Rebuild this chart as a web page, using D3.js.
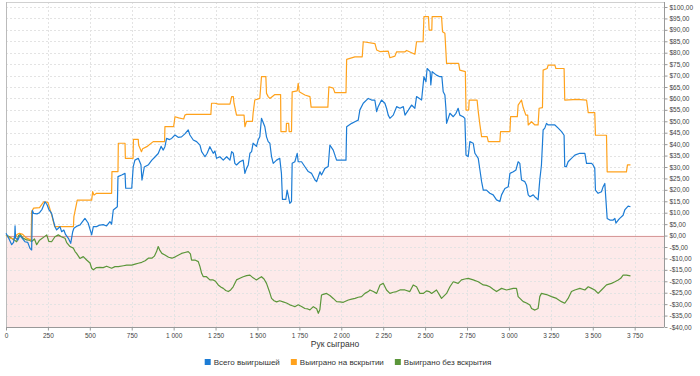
<!DOCTYPE html>
<html>
<head>
<meta charset="utf-8">
<script src="https://cdn.jsdelivr.net/npm/d3@7"></script>
<style>
  body { margin: 0; background: #fff; }
  svg { display: block; font-family: "Liberation Sans", Arial, sans-serif; }
  .tick text { fill: #444; font-size: 6.5px; }
  .domain, .tick line { stroke: #999; }
  .grid line { stroke: #e3e3e3; stroke-dasharray: 2,2; }
</style>
</head>
<body>
<div id="wrapper"></div>
<script>
// hands played -> winnings
const totalWon = [[0,1],[15,-1],[34,-4],[45,-3],[52,0],[54,4.3],[57,-1],[70,-2],[83,0],[95,-1],[113,-2.7],[130,-3],[143,-5.6],[153,-6.3],[157,11],[165,9.7],[185,9.5],[200,10],[215,11.5],[233,14.8],[245,13.5],[255,11.5],[272,9.7],[282,6.8],[292,3.9],[302,2.5],[312,3.2],[322,3.9],[332,1.7],[345,2.4],[355,0.5],[372,-1.2],[386,-3.4],[398,1.7],[405,3.2],[420,4],[441,4.6],[455,6],[471,7.5],[490,5.5],[511,0.3],[521,3.9],[540,3.9],[560,4.6],[580,4.8],[600,4.2],[620,6.1],[630,5],[640,11.2],[664,12.6],[668,25.8],[690,26.5],[710,27.2],[714,20.7],[750,20.7],[759,30.2],[769,33],[789,33.8],[805,31],[811,24.3],[825,30],[850,31],[870,33],[890,34.5],[908,35.9],[925,39],[938,37.4],[948,38.9],[958,42.5],[975,42],[988,42.5],[1008,44],[1027,43],[1047,43.2],[1067,44.5],[1087,46.2],[1097,44],[1117,41.8],[1137,41.1],[1157,39.6],[1167,36.7],[1187,34.5],[1200,36],[1216,38.9],[1236,36],[1246,37],[1256,33.8],[1276,34.5],[1296,33],[1316,34.5],[1336,33],[1346,36.7],[1356,36],[1365,31.6],[1375,30.9],[1395,32.3],[1415,33],[1425,27.2],[1435,29.4],[1445,30.9],[1455,36],[1465,36.7],[1474,40.4],[1494,39],[1504,41.8],[1514,43.2],[1524,51.3],[1544,47.6],[1554,43.2],[1564,41.1],[1574,40.4],[1584,34.5],[1594,31.6],[1614,33],[1633,33.8],[1643,27.2],[1649,15.8],[1669,15.8],[1677,19.9],[1685,17],[1693,14.1],[1703,14.9],[1707,31.6],[1723,32.3],[1737,36],[1743,32.3],[1763,32.3],[1783,30.1],[1803,28],[1823,27.2],[1843,24.3],[1853,23.6],[1873,27.9],[1882,26.5],[1902,29.4],[1922,30.2],[1932,39.6],[1952,37.4],[1972,33],[2028,33],[2032,47.6],[2062,49.1],[2081,49.8],[2101,50.5],[2111,55],[2131,57.9],[2161,60],[2181,59.3],[2200,59.3],[2211,54.2],[2220,56.4],[2240,59.3],[2260,57.9],[2270,55.7],[2280,52.7],[2290,51.3],[2310,52.7],[2330,56.4],[2350,55.7],[2370,56.4],[2380,52.7],[2400,54.9],[2419,57.1],[2439,55.7],[2449,60.8],[2479,59.3],[2493,69.5],[2505,67.3],[2512,73.1],[2530,71.7],[2534,65.9],[2542,71.7],[2568,70.2],[2588,69.5],[2600,69.5],[2608,62.9],[2618,61.5],[2624,55.7],[2628,49.1],[2648,53.5],[2668,52],[2684,53.5],[2697,55.7],[2707,52.7],[2727,52],[2737,51.3],[2744,35.2],[2757,34.5],[2767,41.1],[2787,40.4],[2797,36],[2817,33.8],[2827,28.7],[2837,23.6],[2847,19.9],[2866,19.9],[2886,18.5],[2906,17.8],[2926,15.6],[2946,14.9],[2956,17.8],[2976,20.6],[2996,21.4],[3006,27.2],[3026,27.9],[3042,28.7],[3055,32.3],[3065,31.6],[3075,24.3],[3095,23.6],[3105,22],[3115,17.8],[3125,17],[3145,17.8],[3155,16.9],[3165,16.3],[3174,15.6],[3184,24.3],[3194,30.9],[3204,46.2],[3214,47],[3224,49.1],[3234,48.4],[3254,48.4],[3274,48.4],[3294,47],[3314,45.5],[3329,43.9],[3333,30.2],[3343,30.2],[3353,32.3],[3373,33.8],[3393,35.2],[3423,36],[3453,36],[3463,31.6],[3493,31.6],[3502,30.9],[3512,29.4],[3516,19.9],[3532,18.5],[3552,19.2],[3562,21.4],[3572,22.8],[3586,7.5],[3602,6.8],[3622,6.8],[3632,7.5],[3638,5.4],[3652,6.8],[3661,7.5],[3681,8.9],[3691,11.2],[3711,12.9],[3725,12.6]]

const showdownWon = [[0,0],[20,-1],[50,-1.5],[65,0.5],[80,1],[100,0.5],[120,-1],[150,-2],[153,10.4],[165,12],[200,12.2],[225,14.8],[250,14.5],[270,9.7],[290,3.9],[402,3.9],[405,8.3],[425,15.5],[511,15.5],[517,19.2],[525,17.7],[540,18.5],[630,18.5],[632,28],[668,28],[670,40.4],[710,40.4],[712,33.8],[758,33.8],[760,42.1],[789,42.1],[791,39.6],[808,36.7],[815,38],[840,38.9],[878,41.1],[946,41.1],[948,47.7],[1000,47.7],[1008,52],[1030,51.5],[1060,51],[1067,52.7],[1077,53],[1222,53],[1226,57.9],[1246,57.9],[1266,57.5],[1336,57.5],[1346,60.8],[1356,60.8],[1360,57.9],[1375,52.7],[1420,52.7],[1425,47.6],[1435,50],[1470,50],[1474,53.5],[1484,59.3],[1514,60],[1524,69.5],[1550,69.5],[1554,62.2],[1564,60.8],[1574,60],[1604,61.7],[1638,61.7],[1640,45.5],[1671,45.5],[1673,49.1],[1686,49.1],[1689,45.5],[1703,45.5],[1707,62.9],[1737,63.3],[1743,66.6],[1749,62.9],[1783,61.5],[1813,60.8],[1820,56.2],[1920,56.2],[1926,65.1],[1952,64.5],[1962,62.5],[2028,62.5],[2032,77.1],[2081,78.2],[2125,78.2],[2131,84.8],[2201,84],[2211,81.2],[2230,80.5],[2280,80.7],[2290,77.8],[2320,78.5],[2330,80.4],[2380,80.4],[2390,81],[2439,79.3],[2449,84.8],[2488,84.8],[2493,95.8],[2520,95.8],[2524,89.9],[2540,89.9],[2542,95.8],[2598,95.8],[2604,89.2],[2618,88.5],[2628,75.3],[2700,75.3],[2707,72.4],[2740,71.7],[2744,54.9],[2760,54.9],[2763,59.3],[2810,59.3],[2817,54.2],[2827,48.4],[2837,43.3],[2870,43.3],[2877,41.1],[2946,41.1],[2950,45.5],[3006,45.5],[3010,52],[3050,52],[3055,57.1],[3075,59.3],[3085,56],[3101,52.7],[3112,52.7],[3115,48.4],[3135,49.8],[3155,48.4],[3174,48.4],[3180,55.7],[3200,56],[3204,72.4],[3228,73.1],[3234,74.6],[3274,74.6],[3280,73.1],[3329,73.1],[3333,59.3],[3407,59.6],[3463,59.3],[3473,53.8],[3512,53.8],[3516,43.9],[3582,43.9],[3586,27.9],[3701,27.9],[3707,30.9],[3725,30.9]]

const nonShowdownWon = [[0,0.3],[20,-0.5],[40,-1.5],[64,-2.7],[75,0],[85,0.5],[100,-1],[123,-1.9],[140,-2],[153,-2.6],[170,-1.5],[183,-4],[200,-2],[220,-1],[243,0.3],[255,-2.5],[272,-2.7],[292,-0.5],[312,0.3],[330,-0.5],[352,-1.2],[362,-3.1],[382,-4.8],[402,-5.5],[412,-7],[421,-7.8],[441,-10],[461,-9.2],[481,-10.7],[501,-12],[511,-14.3],[521,-15],[540,-14],[560,-13.9],[580,-14],[600,-13.4],[630,-14.3],[650,-13.6],[670,-13.6],[700,-13.2],[720,-12.9],[750,-12.9],[770,-12.5],[789,-12.1],[810,-11.7],[830,-11],[849,-9.9],[870,-9.9],[885,-9],[898,-7],[908,-4.8],[918,-6.5],[930,-7.8],[948,-8.5],[970,-9.5],[990,-9.9],[1010,-9.3],[1030,-8.5],[1047,-7.8],[1067,-7.4],[1087,-7],[1100,-8],[1107,-10.7],[1127,-10.7],[1147,-11.4],[1157,-13.6],[1167,-16.5],[1177,-18],[1196,-18],[1216,-19.4],[1236,-19.4],[1250,-20],[1266,-21.6],[1281,-22.5],[1296,-23.1],[1311,-24],[1326,-24.5],[1340,-23.8],[1355,-22.4],[1375,-19.4],[1395,-18.7],[1415,-18],[1435,-17.5],[1455,-17.3],[1474,-18.5],[1494,-19.4],[1509,-18.7],[1524,-18],[1539,-19],[1554,-20.9],[1569,-24],[1584,-27.5],[1599,-28.5],[1614,-29],[1633,-28.5],[1653,-29],[1673,-29.5],[1693,-30.3],[1708,-30.7],[1723,-31.1],[1743,-30.3],[1763,-31],[1783,-31.9],[1800,-32.1],[1813,-32.5],[1833,-31.1],[1853,-32],[1863,-34],[1872,-32.5],[1882,-26],[1897,-25.6],[1912,-25.3],[1932,-26.2],[1952,-27.5],[1972,-28.9],[1992,-29],[2012,-29.2],[2042,-28.2],[2062,-27.8],[2082,-27.5],[2101,-27],[2121,-26.7],[2141,-25.3],[2161,-24.5],[2171,-23.8],[2191,-24.5],[2211,-25.3],[2231,-21.6],[2250,-20.9],[2270,-23.8],[2290,-25.3],[2310,-24.8],[2330,-24.5],[2350,-23.8],[2380,-23.8],[2409,-24.5],[2429,-21.6],[2449,-22.4],[2469,-25.3],[2489,-25.3],[2509,-24.2],[2524,-24.5],[2539,-25.3],[2568,-23.8],[2598,-27.5],[2628,-25.3],[2648,-22.4],[2668,-20.2],[2697,-20.9],[2717,-19.4],[2737,-19],[2757,-18.7],[2787,-19.4],[2817,-20.2],[2847,-21.6],[2866,-21.8],[2886,-22.4],[2906,-23.5],[2926,-24.5],[2956,-23.1],[2986,-23.8],[3026,-23.1],[3045,-23.1],[3055,-26.7],[3085,-28.9],[3105,-29.5],[3125,-30.4],[3135,-31.9],[3155,-32.6],[3174,-31.9],[3184,-26.7],[3194,-25.3],[3224,-25.8],[3254,-26.7],[3284,-27.5],[3313,-28.9],[3333,-29.6],[3353,-27.5],[3373,-24.5],[3393,-23.8],[3423,-23.1],[3453,-23.8],[3473,-22.4],[3493,-23.1],[3512,-23.8],[3532,-25.3],[3552,-23.8],[3582,-21.6],[3612,-20.9],[3632,-20.2],[3652,-19.4],[3667,-18.7],[3681,-17.3],[3701,-17.3],[3725,-17.6]]

const seriesNames = ["Всего выигрышей", "Выиграно на вскрытии", "Выиграно без вскрытия"]
const seriesColors = ["#1c7cd5", "#ffa21c", "#5b963a"]
const xTicks = [0, 250, 500, 750, 1000, 1250, 1500, 1750, 2000, 2250, 2500, 2750, 3000, 3250, 3500, 3750]
const yTicks = d3.range(-40, 101, 5)
const xTitle = "Рук сыграно"

// dimensions
const width = 700
const height = 376
const plot = { left: 6, right: 664, top: 2, bottom: 327 }

const svg = d3.select("#wrapper").append("svg")
    .attr("width", width)
    .attr("height", height)

const x = d3.scaleLinear().domain([0, 3925]).range([plot.left, plot.right])
const y = d3.scaleLinear().domain([-40, 100]).range([plot.bottom, 7])

// negative zone
svg.append("rect")
    .attr("x", plot.left)
    .attr("y", y(0))
    .attr("width", plot.right - plot.left)
    .attr("height", plot.bottom - y(0))
    .attr("fill", "#fdeaea")

// grid
const grid = svg.append("g").attr("class", "grid")
grid.selectAll(".h").data(yTicks).join("line")
    .attr("x1", plot.left).attr("x2", plot.right)
    .attr("y1", d => Math.round(y(d)) + 0.5).attr("y2", d => Math.round(y(d)) + 0.5)
grid.selectAll(".v").data(xTicks.slice(1)).join("line")
    .attr("y1", plot.top).attr("y2", plot.bottom)
    .attr("x1", d => Math.round(x(d)) + 0.5).attr("x2", d => Math.round(x(d)) + 0.5)

// top border
svg.append("line")
    .attr("x1", plot.left).attr("x2", plot.right)
    .attr("y1", plot.top + 0.5).attr("y2", plot.top + 0.5)
    .attr("stroke", "#d0d0d0")

// zero line
svg.append("line")
    .attr("x1", plot.left).attr("x2", plot.right)
    .attr("y1", Math.round(y(0)) + 0.5).attr("y2", Math.round(y(0)) + 0.5)
    .attr("stroke", "#d79a9a")

// axes
const fmtX = d3.formatLocale({ decimal: ",", thousands: "\u00a0", grouping: [3], currency: ["$", ""] }).format(",")
const fmtY = d => (d < 0 ? "-" : "") + "$" + Math.abs(d).toFixed(2).replace(".", ",")

svg.append("g")
    .attr("transform", `translate(0,${plot.bottom + 0.5})`)
    .call(d3.axisBottom(x).tickValues(xTicks).tickFormat(fmtX).tickSize(3).tickSizeOuter(0))
    .call(g => g.select(".domain").attr("d", `M${plot.left},0H${plot.right}`))

svg.append("g")
    .attr("transform", `translate(${plot.right + 0.5},0)`)
    .call(d3.axisRight(y).tickValues(yTicks).tickFormat(fmtY).tickSize(3).tickPadding(2).tickSizeOuter(0))
    .call(g => g.select(".domain").attr("d", `M0,${plot.top}V${plot.bottom}`))

svg.append("line")
    .attr("x1", plot.left + 0.5).attr("x2", plot.left + 0.5)
    .attr("y1", plot.top).attr("y2", plot.bottom)
    .attr("stroke", "#bbb")

// lines
const line = d3.line().x(d => x(d[0])).y(d => y(d[1]))
const allSeries = [totalWon, showdownWon, nonShowdownWon]
const drawOrder = [2, 1, 0]
drawOrder.forEach(i => {
  svg.append("path")
      .attr("d", line(allSeries[i]))
      .attr("fill", "none")
      .attr("stroke", seriesColors[i])
      .attr("stroke-width", 1.2)
      .attr("stroke-linejoin", "round")
})

// x title
svg.append("text")
    .attr("x", (plot.left + plot.right) / 2)
    .attr("y", 347)
    .attr("text-anchor", "middle")
    .attr("font-size", 8.5)
    .attr("fill", "#333")
    .text(xTitle)

// legend
const legend = svg.append("g")
const items = seriesNames.map((name, i) => {
  const g = legend.append("g")
  g.append("rect").attr("width", 6).attr("height", 6).attr("y", -5).attr("fill", seriesColors[i])
  const t = g.append("text").attr("x", 9).attr("y", 0.5).attr("font-size", 8).attr("fill", "#333").text(name)
  return { g, w: 9 + t.node().getComputedTextLength() }
})
const gap = 11
const total = d3.sum(items, d => d.w) + gap * (items.length - 1)
let cx = 348 - total / 2
items.forEach(it => {
  it.g.attr("transform", `translate(${cx},364)`)
  cx += it.w + gap
})
</script>
</body>
</html>
